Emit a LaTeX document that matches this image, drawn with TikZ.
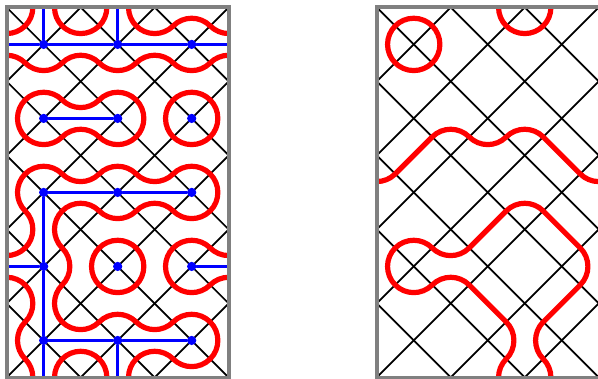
\documentclass[tikz,border=0pt]{standalone}
\usepackage{tikz}
\usepackage{xcolor}
\newcommand{\rad}{0.7071}
\tikzset{
  medial/.style={black,line width=1.35pt},
  bond/.style={blue,line width=2.1pt},
  site/.style={circle,fill=blue,inner sep=0pt,minimum size=2.5mm},
  loopline/.style={red,line width=4pt,line join=round},
  frameline/.style={gray,line width=3pt}
}
\begin{document}
\begin{tikzpicture}[y=-1cm,line cap=round]
\useasboundingbox (-0.18,-0.2) rectangle (15.98,10.04);
\foreach \px in {0,10} {
\begin{scope}[xshift=\px cm]
\clip (0,0) rectangle (6,10);
\foreach \k in {-10,-8,...,4} \draw[medial] (\k,0) -- (\k+10,10);
\foreach \k in {2,4,...,16} \draw[medial] (\k,0) -- (\k-10,10);
\end{scope}
}
\foreach \i in {1,3,5} \foreach \j in {1,3,5,7,9} \node[site] (v\i\j) at (\i,\j) {};
\coordinate (t1) at (1,0);
\coordinate (t3) at (3,0);
\coordinate (l1) at (0,1);
\coordinate (r1) at (6,1);
\coordinate (l7) at (0,7);
\coordinate (r7) at (6,7);
\coordinate (b1) at (1,10);
\coordinate (b3) at (3,10);
\draw[bond] (t1) -- (v11);
\draw[bond] (t3) -- (v31);
\draw[bond] (l1) -- (v11);
\draw[bond] (v11) -- (v31);
\draw[bond] (v31) -- (v51);
\draw[bond] (v51) -- (r1);
\draw[bond] (v13) -- (v33);
\draw[bond] (v15) -- (v35);
\draw[bond] (v35) -- (v55);
\draw[bond] (v15) -- (v17);
\draw[bond] (v17) -- (v19);
\draw[bond] (v19) -- (b1);
\draw[bond] (l7) -- (v17);
\draw[bond] (v57) -- (r7);
\draw[bond] (v19) -- (v39);
\draw[bond] (v39) -- (v59);
\draw[bond] (v39) -- (b3);
\begin{scope}
\clip (0,0) rectangle (6,10);
\draw[loopline] (0,0) circle (\rad);
\draw[loopline] (2,0) circle (\rad);
\draw[loopline] (5,3) circle (\rad);
\draw[loopline] (3,7) circle (\rad);
\draw[loopline] (2,10) circle (\rad);
\draw[loopline] (4,0) ++(180:\rad) arc (180:45:\rad) arc (225:315:\rad) arc (135:90:\rad);
\draw[loopline] (0,2) ++(270:\rad) arc (270:315:\rad) arc (135:45:\rad) arc (225:315:\rad) arc (135:45:\rad) arc (225:315:\rad) arc (135:45:\rad) arc (225:270:\rad);
\draw[loopline] (0.5,2.5) arc (225:315:\rad) arc (135:45:\rad) arc (225:495:\rad) arc (315:225:\rad) arc (45:225:\rad) -- cycle;
\draw[loopline] (0,6) ++(90:\rad) arc (90:-45:\rad) arc (135:315:\rad) arc (135:45:\rad) arc (225:315:\rad) arc (135:45:\rad) arc (225:495:\rad) arc (315:225:\rad) arc (45:135:\rad) arc (315:135:\rad) arc (315:405:\rad) arc (225:45:\rad) arc (225:315:\rad) arc (135:45:\rad) arc (225:495:\rad) arc (315:180:\rad);
\draw[loopline] (0,8) ++(270:\rad) arc (270:405:\rad) arc (225:135:\rad) arc (315:360:\rad);
\draw[loopline] (6,6) ++(90:\rad) arc (90:135:\rad) arc (315:45:\rad) arc (225:270:\rad);
\end{scope}
\begin{scope}[xshift=10cm]
\clip (0,0) rectangle (6,10);
\draw[loopline] (1,1) circle (\rad);
\draw[loopline] (4,0) circle (\rad);
\draw[loopline] (0,4) ++(90:\rad) arc (90:45:\rad) -- (1.5,3.5) arc (225:315:\rad) arc (135:45:\rad) arc (225:315:\rad) -- (5.5,4.5) arc (135:90:\rad);
\draw[loopline] (4,10) ++(180:\rad) arc (180:225:\rad) arc (45:-45:\rad) -- (2.5,7.5) arc (315:225:\rad) arc (45:315:\rad) arc (135:45:\rad) -- (3.5,5.5) arc (225:315:\rad) -- (5.5,6.5) arc (315:405:\rad) -- (4.5,8.5) arc (225:135:\rad) arc (315:360:\rad);
\end{scope}
\draw[frameline] (0,0) rectangle (6,10);
\draw[frameline] (16.5,0) -- (10,0) -- (10,10) -- (16.5,10);
\end{tikzpicture}
\end{document}
